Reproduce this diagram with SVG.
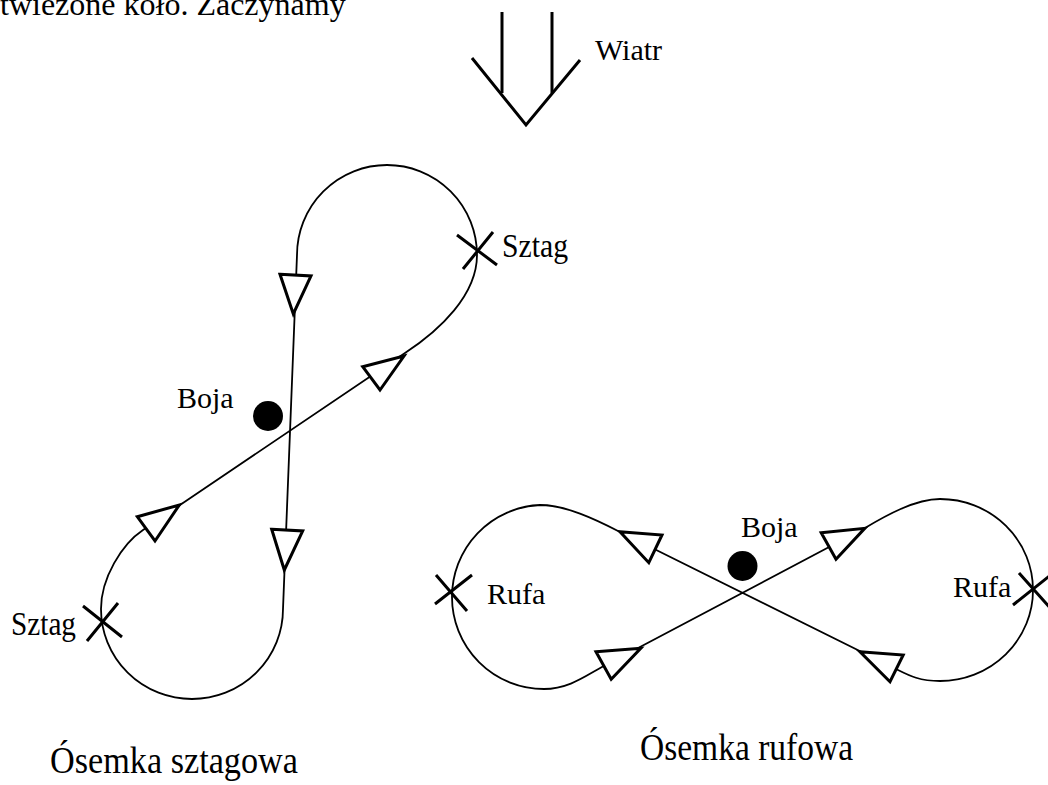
<svg xmlns="http://www.w3.org/2000/svg" width="1048" height="785" viewBox="0 0 1048 785">
<style>
.t{font-family:"Liberation Serif","Times New Roman",serif;fill:#000}
.lbl{font-size:30px}
.sz{font-size:34px}
.ttl{font-size:38px}
.curve{fill:none;stroke:#000;stroke-width:1.8}
.arr{fill:#fff;stroke:#000;stroke-width:3;stroke-linejoin:miter}
.x{stroke:#000;stroke-width:3;fill:none}
.wind{stroke:#000;stroke-width:3;fill:none}
</style>
<rect width="1048" height="785" fill="#fff"/>
<g id="header"><text class="t" x="0" y="15" font-size="32">twiezone koło. Zaczynamy</text></g>
<g id="wind">
<line class="wind" x1="502" y1="12" x2="502" y2="93"/>
<line class="wind" x1="552" y1="12" x2="552" y2="93"/>
<polyline class="wind" points="472,58 526,125 580,60"/>
<text class="t lbl" x="595" y="60">Wiatr</text>
</g>
<g id="connectors">
<path id="path-sztag" class="curve" d="M 297,255 L 283,609 A 91 90 0 0 1 101,609 C 101,578 122,544 143,530 L 405,353 C 440,330 477,295 477,255 A 90 90 0 0 0 297,255 Z"/>
<path id="path-rufa" class="curve" d="M 898,670 L 620,532 C 595,519 565,505 540,505 A 92 92 0 0 0 452,597 A 92 92 0 0 0 544,689 C 570,689 588,674 604,666 L 865,528 C 885,516 915,499 940,499 A 93 91 0 0 1 1033,590 A 93 91 0 0 1 940,681 C 920,681 910,676 898,670 Z"/>
</g>
<g id="fig-sztag">
<g id="arrows-sztag">
<polygon class="arr" points="280,274.3 311,276 293.3,314"/>
<polygon class="arr" points="271.7,529.3 302.7,531 284.3,570"/>
<polygon class="arr" points="362.7,366.7 404,356 380,390"/>
<polygon class="arr" points="137.3,516.7 179.3,505 155,541"/>
</g>
<g id="sztag-top"><path class="x" d="M457,235 L497,265 M463,269 L493,232"/><text class="t sz" x="502" y="257" textLength="66" lengthAdjust="spacingAndGlyphs">Sztag</text></g>
<g id="sztag-bottom"><path class="x" d="M83,606 L122,637 M118,603 L87,641"/><text class="t sz" x="11" y="635" textLength="65" lengthAdjust="spacingAndGlyphs">Sztag</text></g>
<g id="boja-left"><circle cx="268" cy="416" r="15" fill="#000"/><text class="t lbl" x="177" y="408">Boja</text></g>
<text class="t ttl" x="50" y="773" textLength="248" lengthAdjust="spacingAndGlyphs">Ósemka sztagowa</text>
</g>
<g id="fig-rufa">
<g id="arrows-rufa">
<polygon class="arr" points="620,531.7 662,535 648.8,562.7"/>
<polygon class="arr" points="860,651.7 903.2,655 890,681.7"/>
<polygon class="arr" points="596,651.7 640.8,648.3 611.2,679.3"/>
<polygon class="arr" points="821.2,532.7 864.8,528.3 836,559.3"/>
</g>
<g id="rufa-left"><path class="x" d="M436,575 L467,611 M435,604 L472,575"/><text class="t lbl" x="487" y="604">Rufa</text></g>
<g id="rufa-right"><path class="x" d="M1019,573 L1052,610 M1013,605 L1052,574"/><text class="t lbl" x="953" y="597">Rufa</text></g>
<g id="boja-right"><circle cx="742.5" cy="566" r="15" fill="#000"/><text class="t lbl" x="741" y="537">Boja</text></g>
<text class="t ttl" x="640" y="760" textLength="213" lengthAdjust="spacingAndGlyphs">Ósemka rufowa</text>
</g>
</svg>
